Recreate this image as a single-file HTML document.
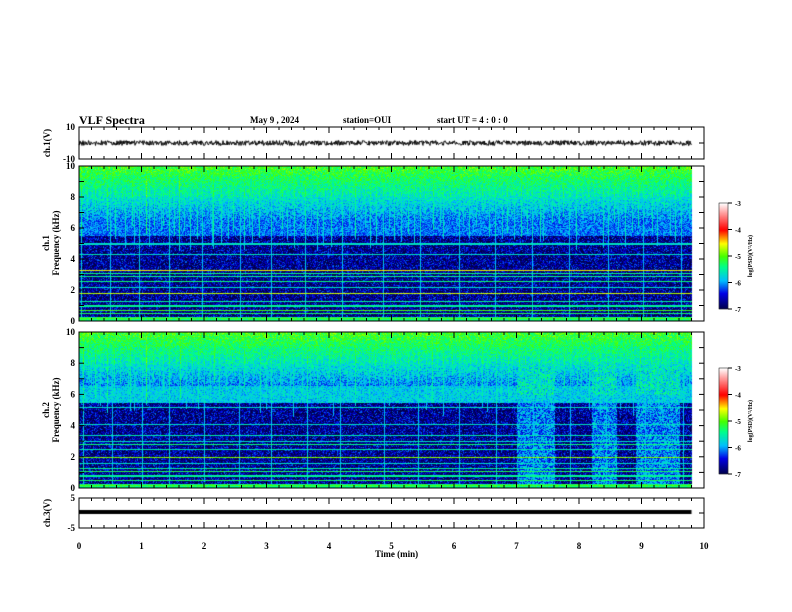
<!DOCTYPE html>
<html><head><meta charset="utf-8"><style>
body{margin:0;background:#fff;}
#wrap{position:relative;width:792px;height:612px;overflow:hidden;font-family:"Liberation Serif",serif;font-weight:bold;color:#000;}
.t{position:absolute;white-space:nowrap;font-size:9px;}
canvas,svg{position:absolute;left:0;top:0;}
</style></head><body>
<div id="wrap">
<canvas id="cv" width="792" height="612"></canvas>
<svg id="sv" width="792" height="612"></svg>
<div class="t" style="left:79px;top:113px;font-size:12px">VLF Spectra</div>
<div class="t" style="left:250px;top:115px">May 9 , 2024</div>
<div class="t" style="left:343px;top:115px">station=OUI</div>
<div class="t" style="left:437px;top:115px">start UT =  4 : 0 : 0</div>
<div class="t" style="left:375px;top:549px">Time (min)</div>
</div>
<script>
const timeTicks=[0,1,2,3,4,5,6,7,8,9,10];
const sfericTimes=[0.05,0.12,0.2,0.28,0.35,0.42,0.5,0.58,0.66,0.75,0.83,0.9,0.98,1.05,1.12,1.2,1.3,1.38,1.45,1.55,1.62,1.7,1.8,1.9,2.0,2.1,2.18,2.27,2.35,2.45,2.55,2.62,2.7,2.8,2.9,3.0,3.08,3.18,3.27,3.35,3.45,3.55,3.62,3.72,3.8,3.9,4.0,4.1,4.2,4.3,4.45,4.55,4.65,4.75,4.85,4.95,5.05,5.15,5.25,5.35,5.45,5.55,5.65,5.75,5.85,5.95,6.05,6.15,6.25,6.35,6.45,6.55,6.65,6.75,6.85,6.95,7.05,7.15,7.25,7.35,7.45,7.55,7.65,7.75,7.85,7.95,8.05,8.15,8.25,8.35,8.45,8.55,8.65,8.75,8.85,8.95,9.05,9.15,9.25,9.35,9.45,9.55,9.65,9.75];
const sfericStrength=[1.6,1.2,1.0,1.4,1.1,1.5,1.0,1.3,1.2,1.1,1.4,1.0,1.2,1.8,1.1,1.3,1.0,1.2,1.4,1.1,1.6,1.0,1.2,1.3,1.1,1.0,1.5,1.2,1.1,1.3,1.0,1.4,1.2,1.1,1.3,1.0,1.2,1.1,1.3,1.0,1.2,1.1,1.4,1.0,1.2,1.1,1.3,1.0,1.2,1.1,1.5,1.0,1.2,1.3,1.1,1.0,1.2,1.1,1.3,1.0,1.2,1.1,1.4,1.0,1.2,1.3,1.1,1.0,1.2,1.1,1.3,1.0,1.2,1.1,1.3,1.0,1.4,1.2,1.1,1.3,1.0,1.2,1.1,1.4,1.0,1.2,1.1,1.3,1.0,1.2,1.1,1.3,1.0,1.2,1.1,1.4,1.0,1.2,1.1,1.3,1.0,1.2,1.1,1.0];
const ch1Lines=[0.2,0.5,0.7,1.0,1.3,1.8,2.2,2.6,2.9,3.1,3.3,4.3,5.0];
const ch1LineLevels=[-5.2,-5.4,-5.2,-5.6,-5.6,-4.8,-5.8,-5.5,-5.6,-5.5,-4.7,-5.8,-5.8];
const ch2Lines=[0.2,0.5,0.8,1.1,1.3,1.6,2.0,2.5,2.8,3.0,3.4,4.1,5.2];
const ch2LineLevels=[-5.2,-5.4,-5.6,-5.4,-5.6,-5.8,-5.0,-5.7,-5.5,-5.8,-5.7,-5.8,-5.8];
const ch2Bursts=[[7.0,7.6],[8.2,8.6],[8.9,9.6]];
const colorTicks=[-3,-4,-5,-6,-7];
const X0=79,X1=704,TMAX=10,TEND=9.8;
const xs=t=>X0+(X1-X0)*t/TMAX;
const S1={y0:166,y1:321},S2={y0:332,y1:488};
function hash(a,b){let h=(a*374761393+b*668265263)|0;h=(h^(h>>>13))*1274126177|0;return ((h^(h>>>16))>>>0)/4294967296;}
const stops=[[0,0,0,70],[0.15,0,0,230],[0.27,0,190,255],[0.4,0,255,140],[0.5,70,255,0],[0.62,255,255,0],[0.75,255,0,0],[0.9,255,150,150],[1,255,255,255]];
function cmap(v){let t=Math.max(0,Math.min(1,(v+7)/4));for(let i=1;i<stops.length;i++){if(t<=stops[i][0]){const a=stops[i-1],b=stops[i],u=(t-a[0])/(b[0]-a[0]);return [a[1]+(b[1]-a[1])*u,a[2]+(b[2]-a[2])*u,a[3]+(b[3]-a[3])*u];}}return [255,255,255];}
const cv=document.getElementById('cv'),ctx=cv.getContext('2d');
function drawSpec(S,ch,lines,levels,bursts){
  const w=Math.round(xs(TEND))-X0,h=S.y1-S.y0;const img=ctx.createImageData(w,h);
  const col=new Array(w).fill(0),colStop=new Array(w).fill(10);
  sfericTimes.forEach((t,i)=>{const px=Math.round(xs(t+(hash(i,ch+5)-0.5)*0.06))-X0;if(px>=0&&px<w){col[px]=sfericStrength[i]*0.7;colStop[px]=(i%6==0)?0:(4.5+hash(i,ch)*3);}});
  for(let y=0;y<h;y++){const f=10*(1-y/h);
    for(let x=0;x<w;x++){const t=x/(X1-X0)*TMAX;const n=hash(x,y+ch*1000);const n2=n*Math.sqrt(n);
      let v;
      if(f<0.3)v=-5.6+n*0.5;
      else if(f<5.5)v=-7.1+n2*1.0;
      else if(f<6.6)v=(ch==2?-6.1:-6.4)+n*0.6;
      else v=-6.4+(f-6.6)/3.4*1.0+n*0.7;
      if(col[x]>0&&f>colStop[x])v=Math.max(v,-6.2+col[x]*(f>5.5?0.9:0.5)*(0.6+0.4*n)+(f>8?0.3:0));
      for(let k=0;k<lines.length;k++){if(Math.abs(f-lines[k])<0.035)v=Math.max(v,levels[k]+n*0.3);}
      if(bursts)bursts.forEach(b=>{if(t>=b[0]&&t<=b[1]&&f>0.3)v=Math.max(v,-6.5+n*0.9+(f>6?0.4:0));});
      const c=cmap(v);const o=(y*w+x)*4;img.data[o]=c[0];img.data[o+1]=c[1];img.data[o+2]=c[2];img.data[o+3]=255;}}
  ctx.putImageData(img,X0,S.y0);
}
drawSpec(S1,1,ch1Lines,ch1LineLevels,null);
drawSpec(S2,2,ch2Lines,ch2LineLevels,ch2Bursts);
[[203,309],[368,474]].forEach(([a,b])=>{for(let y=a;y<b;y++){const v=-3-4*(y-a)/(b-a);const c=cmap(v);ctx.fillStyle=`rgb(${c[0]|0},${c[1]|0},${c[2]|0})`;ctx.fillRect(719,y,9,1);}});
ctx.strokeStyle='#000';ctx.fillStyle='#000';ctx.lineWidth=1;ctx.beginPath();
for(let x=X0;x<=xs(TEND);x+=0.5){const y=143+(hash(x*2|0,7)-0.5)*5;x==X0?ctx.moveTo(x,y):ctx.lineTo(x,y);}ctx.stroke();
ctx.fillRect(X0,510,xs(TEND)-X0,4);
const sv=document.getElementById('sv');const NS='http://www.w3.org/2000/svg';
function el(tag,at,txt){const e=document.createElementNS(NS,tag);for(const k in at)e.setAttribute(k,at[k]);if(txt!=null)e.textContent=txt;sv.appendChild(e);return e;}
function panel(y0,y1,yl,name){
  const r=el('rect',{x:X0,y:y0,width:X1-X0,height:y1-y0,fill:'none',stroke:'#000','stroke-width':1});
  
  for(let i=0;i<=50;i++){const x=X0+(X1-X0)*i/50;const L=i%5==0?6:3;el('line',{x1:x,y1:y0,x2:x,y2:y0+L,stroke:'#000'});el('line',{x1:x,y1:y1,x2:x,y2:y1-L,stroke:'#000'});}
  yl.forEach(([v,lab,frac])=>{const y=y1-(y1-y0)*frac;el('line',{x1:X0,y1:y,x2:X0+5,y2:y,stroke:'#000'});el('line',{x1:X1,y1:y,x2:X1-5,y2:y,stroke:'#000'});
    if(lab!==''){const t=el('text',{x:X0-4,y:y+3,'text-anchor':'end','font-size':9,'font-family':'Liberation Serif','font-weight':'bold'},lab);}});
}
panel(127,159,[[10,'10',1],[0,'',0.5],[-10,'-10',0]],'ch1-wave');
const fl=[];for(let i=0;i<=10;i++)fl.push([i,i%2==0?String(i):'',i/10]);
panel(S1.y0,S1.y1,fl,'ch1-spec');panel(S2.y0,S2.y1,fl,'ch2-spec');
panel(498,528,[[5,'5',1],[0,'',0.5],[-5,'-5',0]],'ch3-wave');
timeTicks.forEach(t=>{const e=el('text',{x:xs(t),y:549,'text-anchor':'middle','font-size':9,'font-family':'Liberation Serif','font-weight':'bold'},String(t));});
function vlab(x,y,lines,name){const g=el('text',{transform:`translate(${x},${y}) rotate(-90)`,'text-anchor':'middle','font-size':9,'font-family':'Liberation Serif','font-weight':'bold'});lines.forEach((s,i)=>{const ts=document.createElementNS(NS,'tspan');ts.setAttribute('x',0);ts.setAttribute('dy',i?10:0);ts.textContent=s;g.appendChild(ts);});}
vlab(50,143,['ch.1(V)'],'ch1-y-title');vlab(49,243,['ch.1','Frequency (kHz)'],'ch1-spec-y-title');
vlab(49,410,['ch.2','Frequency (kHz)'],'ch2-spec-y-title');vlab(50,513,['ch.3(V)'],'ch3-y-title');
[[203,309,1],[368,474,2]].forEach(([a,b,n])=>{el('rect',{x:719,y:a,width:9,height:b-a,fill:'none',stroke:'#000','stroke-width':0.5});
  colorTicks.forEach((v,i)=>{const y=a+(b-a)*i/4;el('line',{x1:728,y1:y,x2:732,y2:y,stroke:'#000'});const t=el('text',{x:735,y:y+3,'font-size':7,'font-family':'Liberation Serif','font-weight':'bold'},String(v));});
  const g=el('text',{transform:`translate(752,${(a+b)/2}) rotate(-90)`,'text-anchor':'middle','font-size':6,'font-family':'Liberation Serif','font-weight':'bold'},'log(PSD)(V²/Hz)');});
</script>
</body></html>
